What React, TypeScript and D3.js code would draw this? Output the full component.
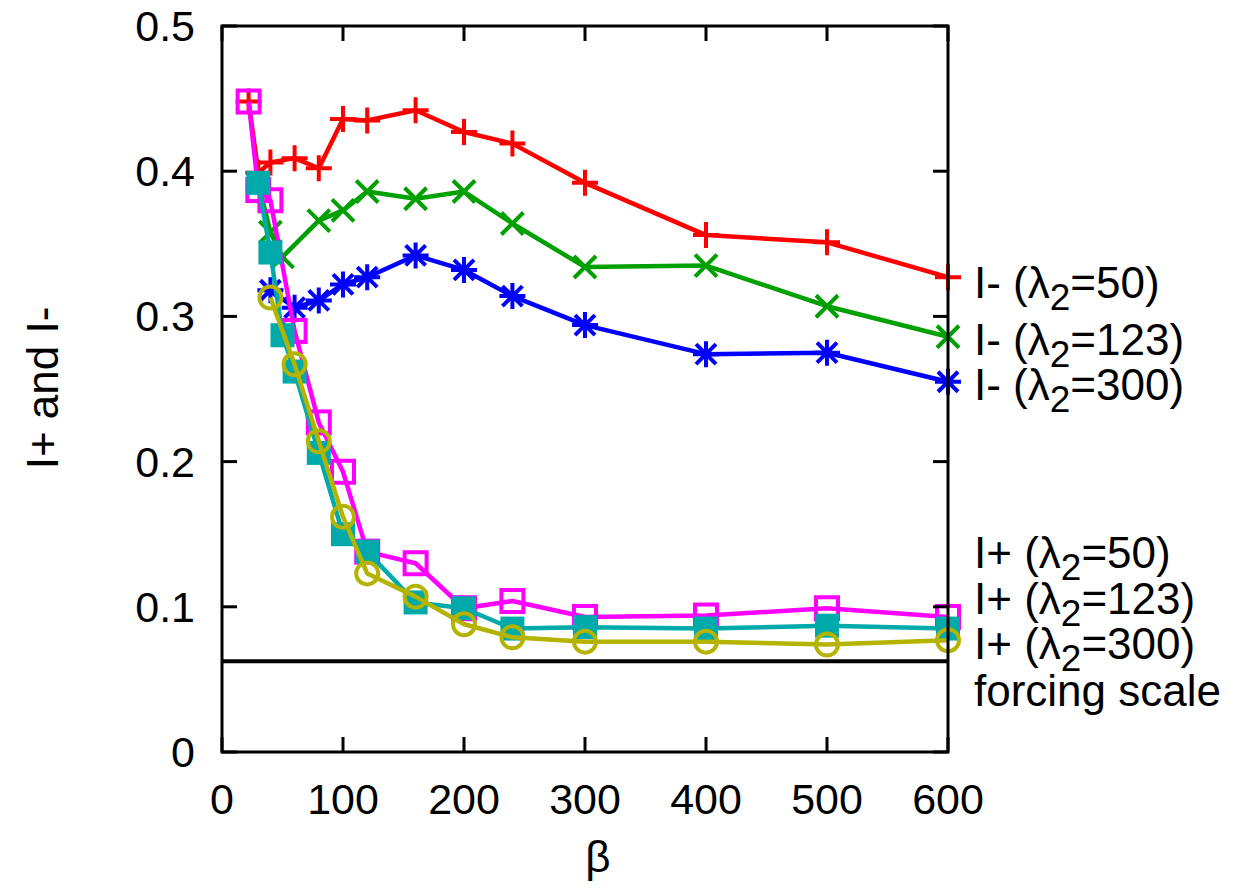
import React from "react";
import * as d3 from "d3";

const W = 1240;
const H = 892;

const xTicks = [0, 100, 200, 300, 400, 500, 600];
const yTicks = [0, 0.1, 0.2, 0.3, 0.4, 0.5];
const yTickLabels = ["0", "0.1", "0.2", "0.3", "0.4", "0.5"];

// I- (lambda2 = 50)
const redX = [22, 30, 40, 60, 80, 100, 120, 160, 200, 240, 300, 400, 500, 600];
const redY = [0.448, 0.399, 0.406, 0.409, 0.402, 0.436, 0.435, 0.442, 0.427, 0.419, 0.392, 0.356, 0.351, 0.327];
// I- (lambda2 = 123)
const greenX = [30, 40, 50, 80, 100, 120, 160, 200, 240, 300, 400, 500, 600];
const greenY = [0.392, 0.358, 0.341, 0.366, 0.373, 0.386, 0.381, 0.386, 0.364, 0.334, 0.335, 0.307, 0.286];
// I- (lambda2 = 300)
const blueX = [40, 60, 80, 100, 120, 160, 200, 240, 300, 400, 500, 600];
const blueY = [0.318, 0.306, 0.311, 0.322, 0.327, 0.342, 0.332, 0.314, 0.294, 0.274, 0.275, 0.255];
// I+ (lambda2 = 50)
const magX = [22, 30, 40, 60, 80, 100, 120, 160, 200, 240, 300, 400, 500, 600];
const magY = [0.448, 0.387, 0.380, 0.290, 0.227, 0.193, 0.138, 0.130, 0.099, 0.104, 0.093, 0.094, 0.099, 0.093];
// I+ (lambda2 = 123)
const tealX = [30, 40, 50, 60, 80, 100, 120, 160, 200, 240, 300, 400, 500, 600];
const tealY = [0.392, 0.344, 0.287, 0.262, 0.206, 0.150, 0.138, 0.103, 0.099, 0.085, 0.086, 0.085, 0.087, 0.085];
// I+ (lambda2 = 300)
const oliveX = [40, 60, 80, 100, 120, 160, 200, 240, 300, 400, 500, 600];
const oliveY = [0.313, 0.267, 0.214, 0.162, 0.123, 0.107, 0.088, 0.079, 0.076, 0.076, 0.074, 0.077];

const forcingScale = 0.0625;

type Series = { xs: number[]; ys: number[]; color: string; marker: string };
const series: Series[] = [
  { xs: redX, ys: redY, color: "#ff0000", marker: "plus" },
  { xs: greenX, ys: greenY, color: "#00a000", marker: "cross" },
  { xs: blueX, ys: blueY, color: "#0000ff", marker: "star" },
  { xs: magX, ys: magY, color: "#ff00ff", marker: "square" },
  { xs: tealX, ys: tealY, color: "#00aaaa", marker: "fsquare" },
  { xs: oliveX, ys: oliveY, color: "#b3b300", marker: "circle" },
];

const legendNames = ["I- (", "I- (", "I- (", "I+ (", "I+ (", "I+ ("];
const legendLam = ["=50)", "=123)", "=300)", "=50)", "=123)", "=300)"];
const legendBase = [298, 355, 400, 568, 614, 659];

const FONT = "'Liberation Sans', Arial, Helvetica, sans-serif";

function Marker({ kind, cx, cy, color }: { kind: string; cx: number; cy: number; color: string }) {
  const s = 13;
  const sw = 4;
  if (kind === "plus") {
    return <path d={`M${cx - s},${cy}H${cx + s}M${cx},${cy - s}V${cy + s}`} stroke={color} strokeWidth={sw} fill="none" />;
  }
  if (kind === "cross") {
    const c = 11;
    return <path d={`M${cx - c},${cy - c}L${cx + c},${cy + c}M${cx - c},${cy + c}L${cx + c},${cy - c}`} stroke={color} strokeWidth={sw} fill="none" />;
  }
  if (kind === "star") {
    const c = 10;
    return (
      <path
        d={`M${cx - s},${cy}H${cx + s}M${cx},${cy - s}V${cy + s}M${cx - c},${cy - c}L${cx + c},${cy + c}M${cx - c},${cy + c}L${cx + c},${cy - c}`}
        stroke={color}
        strokeWidth={sw}
        fill="none"
      />
    );
  }
  if (kind === "square") {
    const h = 11;
    return <rect x={cx - h} y={cy - h} width={2 * h} height={2 * h} stroke={color} strokeWidth={sw} fill="none" />;
  }
  if (kind === "fsquare") {
    const h = 12;
    return <rect x={cx - h} y={cy - h} width={2 * h} height={2 * h} fill={color} />;
  }
  return <circle cx={cx} cy={cy} r={11} stroke={color} strokeWidth={sw} fill="none" />;
}

export default function App() {
  const x = d3.scaleLinear().domain([0, 600]).range([222, 948]);
  const y = d3.scaleLinear().domain([0, 0.5]).range([752, 26]);
  const line = d3
    .line<[number, number]>()
    .x((d) => x(d[0]))
    .y((d) => y(d[1]));

  const left = x(0);
  const right = x(600);
  const top = y(0.5);
  const bottom = y(0);
  const tl = 15;

  return (
    <svg
      width={W}
      height={H}
      viewBox={`0 0 ${W} ${H}`}
      style={{ position: "absolute", left: 0, top: 0, background: "#fff" }}
      fontFamily={FONT}
    >
      <rect width={W} height={H} fill="#fff" />
      {/* forcing scale */}
      <line x1={left} x2={right} y1={y(forcingScale)} y2={y(forcingScale)} stroke="#000" strokeWidth={4} />

      {/* series */}
      {series.map((s, i) => {
        const pts: [number, number][] = s.xs.map((v, j) => [v, s.ys[j]]);
        return (
          <g key={i}>
            <path d={line(pts) || ""} stroke={s.color} strokeWidth={4.5} fill="none" strokeLinejoin="round" />
            {pts.map((p, j) => (
              <Marker key={j} kind={s.marker} cx={x(p[0])} cy={y(p[1])} color={s.color} />
            ))}
          </g>
        );
      })}

      {/* frame */}
      <rect x={left} y={top} width={right - left} height={bottom - top} fill="none" stroke="#000" strokeWidth={3} />
      {xTicks.map((t) => (
        <g key={"x" + t}>
          <line x1={x(t)} x2={x(t)} y1={bottom} y2={bottom - tl} stroke="#000" strokeWidth={3} />
          <line x1={x(t)} x2={x(t)} y1={top} y2={top + tl} stroke="#000" strokeWidth={3} />
          <text x={x(t)} y={bottom + 62} textAnchor="middle" fontSize={43}>
            {t}
          </text>
        </g>
      ))}
      {yTicks.map((t, i) => (
        <g key={"y" + t}>
          <line x1={left} x2={left + tl} y1={y(t)} y2={y(t)} stroke="#000" strokeWidth={3} />
          <line x1={right} x2={right - tl} y1={y(t)} y2={y(t)} stroke="#000" strokeWidth={3} />
          <text x={195} y={y(t) + 15} textAnchor="end" fontSize={43}>
            {yTickLabels[i]}
          </text>
        </g>
      ))}

      {/* axis labels */}
      <text x={598} y={872} textAnchor="middle" fontSize={44}>
        β
      </text>
      <text transform={`translate(58,388) rotate(-90)`} textAnchor="middle" fontSize={44}>
        I+ and I-
      </text>

      {/* legend labels */}
      {legendNames.map((n, i) => (
        <text key={"lg" + i} x={974} y={legendBase[i]} fontSize={44}>
          {n}λ
          <tspan fontSize={37} dy={12}>
            2
          </tspan>
          <tspan dy={-12}>{legendLam[i]}</tspan>
        </text>
      ))}
      <text x={974} y={706} fontSize={44}>
        forcing scale
      </text>
    </svg>
  );
}
